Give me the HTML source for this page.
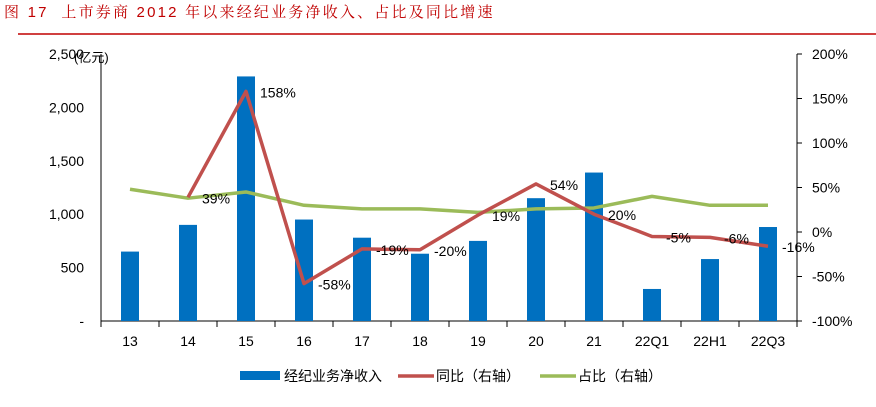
<!DOCTYPE html>
<html><head><meta charset="utf-8"><style>
body{margin:0;background:#fff;}
svg{display:block;font-family:"Liberation Sans","Noto Sans CJK SC",sans-serif;}
</style></head><body>
<svg id="c" width="876" height="407">
<text x="4" y="17" font-size="15" fill="#c00000" letter-spacing="2.2" font-family="'Liberation Sans','Noto Serif CJK SC',serif" xml:space="preserve">图 17  上市券商 2012 年以来经纪业务净收入、占比及同比增速</text>
<line x1="18" y1="34" x2="876" y2="34" stroke="#c00000" stroke-width="1.5"/>
<g id="g"></g>
</svg>
<script>
const categories=["13","14","15","16","17","18","19","20","21","22Q1","22H1","22Q3"];
const revenue=[650,900,2290,950,780,630,750,1150,1390,300,580,880];
const yoy=[null,39,158,-58,-19,-20,19,54,20,-5,-6,-16];
const share=[48,38,45,30,26,26,22,26,27,40,30,30];
const leftTicks=[0,500,1000,1500,2000,2500];
const rightTicks=[-100,-50,0,50,100,150,200];
const NS="http://www.w3.org/2000/svg";
const g=document.getElementById('g');
const L=101,R=797,T=54,B=321;
const step=(R-L)/categories.length;
const xc=i=>L+step*(i+0.5);
const yl=v=>B-(v/2500)*(B-T);
const yr=v=>B-((v+100)/300)*(B-T);
function el(t,a){const e=document.createElementNS(NS,t);for(const k in a)e.setAttribute(k,a[k]);g.appendChild(e);return e;}
let e=el('line',{x1:L,y1:T,x2:L,y2:B,stroke:'#000','stroke-width':1});


e=el('line',{x1:R,y1:T,x2:R,y2:B,stroke:'#000','stroke-width':1});


e=el('line',{x1:L,y1:B,x2:R,y2:B,stroke:'#000','stroke-width':1});


leftTicks.forEach(v=>{const t=el('text',{x:84,y:yl(v)+5,'font-size':14,'text-anchor':'end',fill:'#000'});t.textContent=v===0?'-':v.toLocaleString('en-US');

});
e=el('text',{x:74,y:62,'font-size':13,fill:'#000'});e.textContent='(亿元)';


rightTicks.forEach(v=>{el('line',{x1:R,y1:yr(v),x2:R+5,y2:yr(v),stroke:'#000'});const t=el('text',{x:812,y:yr(v)+5,'font-size':14,fill:'#000'});t.textContent=v+'%';

});
for(let i=0;i<=categories.length;i++)el('line',{x1:L+step*i,y1:B,x2:L+step*i,y2:B+6,stroke:'#000'});
categories.forEach((c,i)=>{const t=el('text',{x:xc(i),y:346,'font-size':14,'text-anchor':'middle',fill:'#000'});t.textContent=c;

});
revenue.forEach((v,i)=>{const b=el('rect',{x:xc(i)-9,y:yl(v),width:18,height:B-yl(v),fill:'#0070c0'});

});
let p=share.map((v,i)=>(i?'L':'M')+xc(i)+','+yr(v)).join('');
e=el('path',{d:p,fill:'none',stroke:'#9bbb59','stroke-width':3.5,'stroke-linejoin':'round'});


let pts=[];yoy.forEach((v,i)=>{if(v!==null)pts.push([xc(i),yr(v)]);});
e=el('path',{d:pts.map((q,i)=>(i?'L':'M')+q[0]+','+q[1]).join(''),fill:'none',stroke:'#c0504d','stroke-width':3.5,'stroke-linejoin':'round'});


yoy.forEach((v,i)=>{if(v===null)return;const t=el('text',{x:xc(i)+14,y:yr(v)+6,'font-size':14,fill:'#000'});t.textContent=v+'%';

});
e=el('rect',{x:240,y:371,width:40,height:9,fill:'#0070c0'});


e=el('text',{x:284,y:381,'font-size':14,fill:'#000'});e.textContent='经纪业务净收入';


e=el('line',{x1:398,y1:376,x2:434,y2:376,stroke:'#c0504d','stroke-width':3.5});


e=el('text',{x:436,y:381,'font-size':14,fill:'#000'});e.textContent='同比（右轴）';


e=el('line',{x1:540,y1:376,x2:576,y2:376,stroke:'#9bbb59','stroke-width':3.5});


e=el('text',{x:578,y:381,'font-size':14,fill:'#000'});e.textContent='占比（右轴）';


</script>
</body></html>
